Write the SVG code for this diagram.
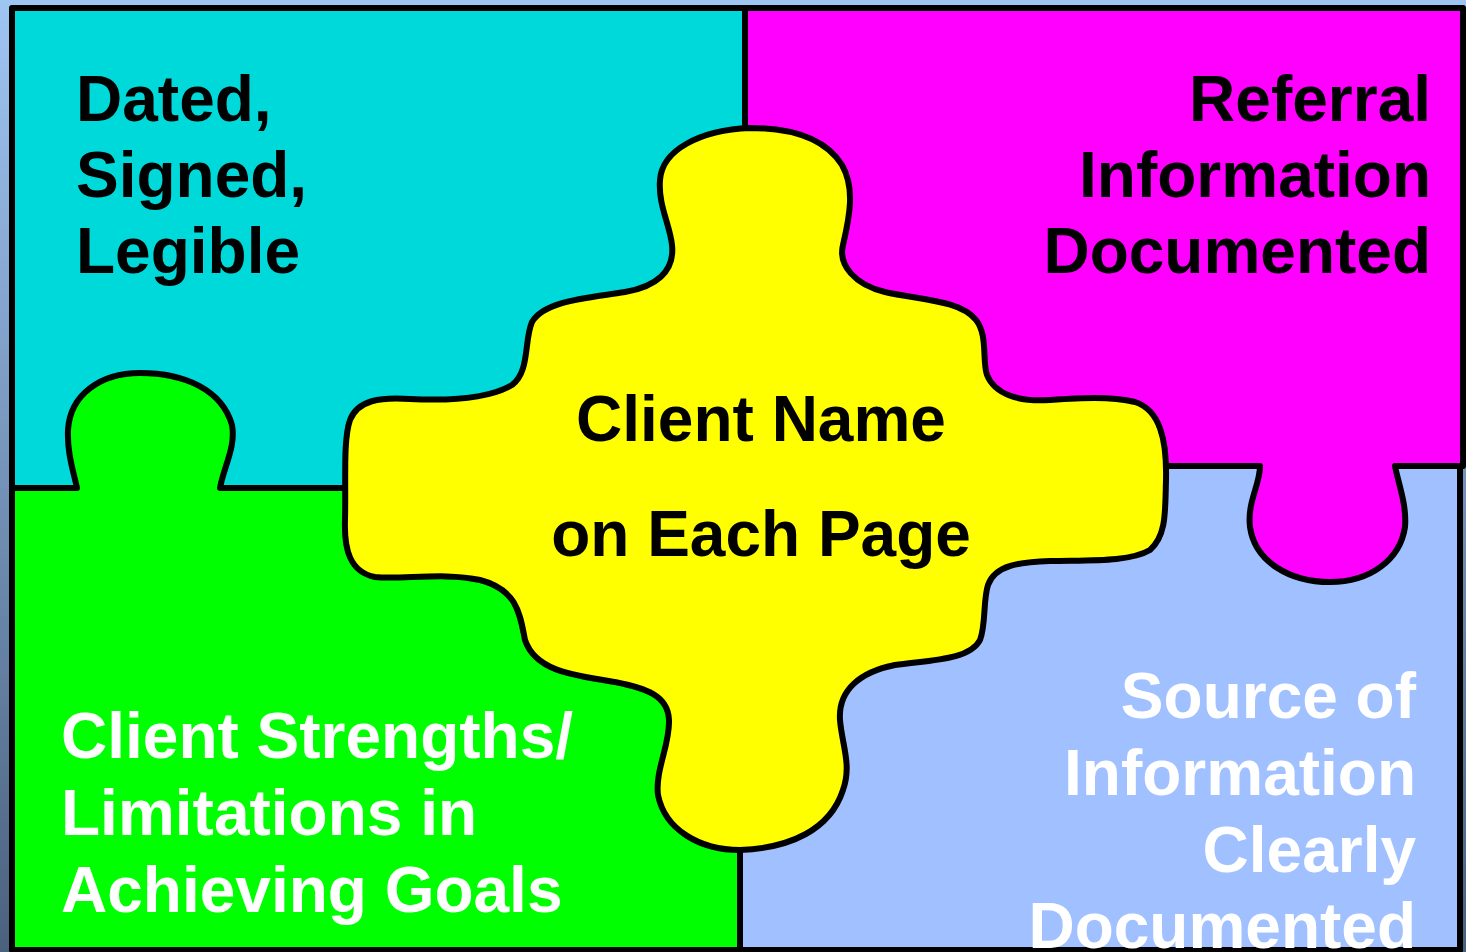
<svg xmlns="http://www.w3.org/2000/svg" width="1466" height="952" viewBox="0 0 1466 952">
<defs>
<linearGradient id="bg" x1="0" y1="0" x2="0" y2="1">
<stop offset="0" stop-color="#9fc5f3"/>
<stop offset="1" stop-color="#4a617e"/>
</linearGradient>
<style>
.pc{stroke:#000;stroke-width:6;stroke-linejoin:round}
.t{font-family:"Liberation Sans",Arial,sans-serif;font-weight:bold;font-size:64px}
.k{fill:#000}
.w{fill:#fff}
</style>
</defs>
<rect x="0" y="0" width="1466" height="952" fill="url(#bg)"/>
<g id="cyan">
<rect class="pc" x="12" y="8" width="733" height="480" fill="#00d9d9"/>
<text class="t k" x="76" y="121">Dated,</text>
<text class="t k" x="76" y="197">Signed,</text>
<text class="t k" x="76" y="273">Legible</text>
</g>
<g id="green">
<path class="pc" fill="#00ff00" d="M12,488 L77,488 C73,470 67,452 68,430 C70,395 100,373 140,373 C185,373 222,390 232,425 C236,447 224,466 220,488 L740,488 L740,950 L12,950 Z"/>
<text class="t w" x="61" y="758">Client Strengths/</text>
<text class="t w" x="61" y="835">Limitations in</text>
<text class="t w" x="61" y="912">Achieving Goals</text>
</g>
<g id="blue">
<rect class="pc" x="740" y="466" width="720" height="484" fill="#a0c0ff"/>
<text class="t w" x="1416" y="718" text-anchor="end">Source of</text>
<text class="t w" x="1416" y="795" text-anchor="end">Information</text>
<text class="t w" x="1416" y="872" text-anchor="end">Clearly</text>
<text class="t w" x="1416" y="948" text-anchor="end">Documented</text>
</g>
<g id="magenta">
<path class="pc" fill="#ff00ff" d="M745,8 L1463,8 L1463,466 L1395,466 C1398,482 1407,505 1405,527 C1400,560 1370,582 1330,582 C1290,582 1255,562 1250,527 C1247,502 1260,485 1260,466 L745,466 Z"/>
<text class="t k" x="1431" y="121" text-anchor="end">Referral</text>
<text class="t k" x="1431" y="197" text-anchor="end">Information</text>
<text class="t k" x="1431" y="273" text-anchor="end">Documented</text>
</g>
<g id="center">
<path class="pc" fill="#ffff00" d="M750,128 C790,128 825,138 842,165 C855,188 850,215 843,245 C838,265 855,285 885,292 C920,300 960,300 976,320 C988,335 982,360 987,375 C995,395 1020,402 1050,400 C1080,398 1110,396 1135,402 C1160,410 1167,440 1166,480 C1165,510 1167,535 1150,550 C1130,562 1090,560 1050,561 C1020,562 995,565 988,585 C983,600 986,625 980,640 C970,660 930,660 895,665 C860,672 838,690 840,720 C842,745 852,765 843,790 C830,830 790,848 740,850 C700,850 665,830 658,795 C655,770 670,745 669,720 C668,695 645,688 615,682 C570,675 535,670 525,640 C520,615 518,590 480,580 C445,572 400,580 375,577 C350,572 344,550 345,520 C346,480 343,440 350,420 C358,400 380,397 410,399 C450,401 490,398 512,385 C530,372 524,340 532,322 C545,300 590,298 625,292 C655,287 675,272 672,245 C670,225 658,205 660,180 C662,150 700,130 750,128 Z"/>
<text class="t k" x="761" y="441" text-anchor="middle">Client Name</text>
<text class="t k" x="761" y="556" text-anchor="middle">on Each Page</text>
</g>
<g id="connectors"/>
</svg>
